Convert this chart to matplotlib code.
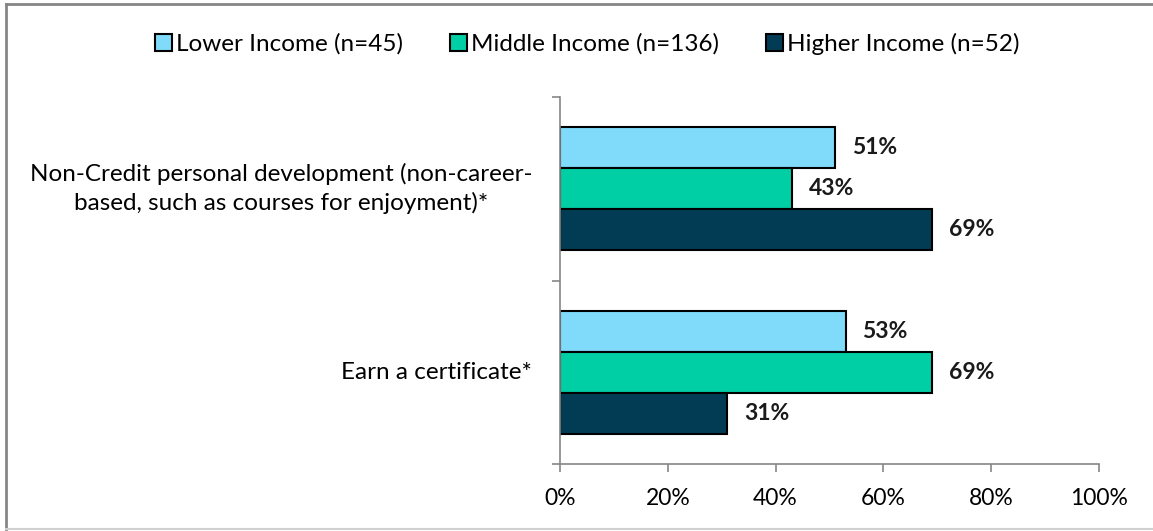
import matplotlib
matplotlib.use("Agg")
import matplotlib.pyplot as plt
from matplotlib.lines import Line2D
from matplotlib.patches import Patch
import numpy as np

plt.rcParams['font.family'] = ['Lato', 'DejaVu Sans']

categories = ["Non-Credit personal development (non-career-\nbased, such as courses for enjoyment)*",
              "Earn a certificate*"]
series_names = ["Lower Income (n=45)", "Middle Income (n=136)", "Higher Income (n=52)"]
lower = [51, 53]
middle = [43, 69]
higher = [69, 31]
series_values = [lower, middle, higher]
colors = ["#80DAFA", "#00CFA6", "#023C54"]
xticks = [0, 20, 40, 60, 80, 100]
xtick_labels = ["0%", "20%", "40%", "60%", "80%", "100%"]

W, H = 1153, 531
fig = plt.figure(figsize=(W/100, H/100), dpi=100)
ax = fig.add_axes([560/W, 1-464/H, (1099-560)/W, (464-97)/H])

y = np.arange(len(categories))
bh = 0.223
offsets = [-bh, 0, bh]
for vals, off, col in zip(series_values, offsets, colors):
    bars = ax.barh(y + off, vals, height=bh, color=col, edgecolor='black', linewidth=1.5)
    for b, v in zip(bars, vals):
        ax.annotate(f"{v}%", (b.get_width(), b.get_y() + b.get_height()/2),
                    xytext=(12, 0), textcoords='offset points', ha='left', va='center',
                    fontsize=16.5, fontweight='bold', color='#1a1a1a')

ax.set_ylim(len(categories) - 0.5, -0.5)
ax.set_xlim(0, 100)
ax.set_xticks(xticks)
ax.set_xticklabels(xtick_labels, fontsize=16.5)
ax.set_yticks(y)
ax.set_yticklabels(categories, fontsize=17.5, multialignment='center', linespacing=1.4, va='center')
ax.set_yticks([-0.5, 0.5, 1.5], minor=True)
ax.tick_params(axis='y', which='major', length=0, pad=20)
ax.tick_params(axis='y', which='minor', length=6, color='#868686', width=1.2)
ax.tick_params(axis='x', length=6, color='#868686', width=1.2, pad=11)
for s in ['top', 'right']:
    ax.spines[s].set_visible(False)
for s in ['left', 'bottom']:
    ax.spines[s].set_color('#868686')
    ax.spines[s].set_linewidth(1.2)

handles = [Patch(facecolor=c, edgecolor='black', linewidth=1.5) for c in colors]
fig.legend(handles, series_names, loc='center', bbox_to_anchor=(587/W, 1-44/H), ncol=3,
           frameon=False, fontsize=17.5, handlelength=0.7, handleheight=0.7,
           handletextpad=0.15, columnspacing=1.95)

# chart border
fig.add_artist(Line2D([6/W, 6/W], [1-4/H, 1-529/H], color='#868686', lw=2, transform=fig.transFigure))
fig.add_artist(Line2D([6/W, 1], [1-4/H, 1-4/H], color='#868686', lw=2, transform=fig.transFigure))
fig.add_artist(Line2D([6/W, 1], [1-529/H, 1-529/H], color='#D0D0D0', lw=1.5, transform=fig.transFigure))

fig.savefig("out.png", dpi=100)
